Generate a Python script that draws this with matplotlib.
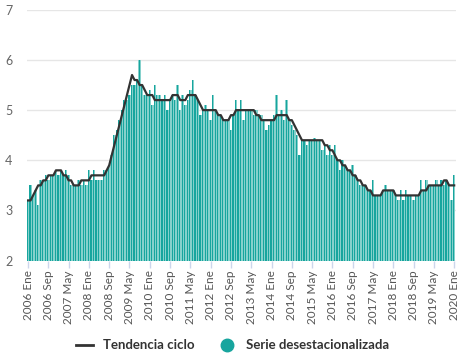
import numpy as np
import matplotlib
matplotlib.use("Agg")
import matplotlib.pyplot as plt
from matplotlib.lines import Line2D

plt.rcParams['font.family'] = ['Lato', 'DejaVu Sans']

# DATOS (mensual, 2006 Ene - 2020 Ene)
meses = ['Ene', 'Feb', 'Mar', 'Abr', 'May', 'Jun', 'Jul', 'Ago', 'Sep', 'Oct', 'Nov', 'Dic']
etiquetas = [f"{2006 + i // 12} {meses[i % 12]}" for i in range(169)]

serie = [3.2, 3.5, 3.3, 3.4, 3.1, 3.6, 3.6, 3.7, 3.6, 3.7, 3.7, 3.8,
         3.7, 3.8, 3.7, 3.8, 3.7, 3.5, 3.5, 3.5, 3.6, 3.5, 3.6, 3.5,
         3.8, 3.6, 3.8, 3.6, 3.6, 3.6, 3.8, 3.8, 3.9, 4.1, 4.5, 4.6,
         4.8, 5.0, 5.2, 5.2, 5.3, 5.5, 5.5, 5.6, 6.0, 5.5, 5.3, 5.3,
         5.4, 5.1, 5.5, 5.3, 5.3, 5.2, 5.3, 5.0, 5.2, 5.3, 5.2, 5.5,
         5.0, 5.3, 5.1, 5.2, 5.4, 5.6, 5.3, 5.2, 4.9, 5.0, 5.1, 5.0,
         4.8, 5.3, 5.0, 4.9, 4.9, 4.8, 4.8, 4.8, 4.6, 4.9, 5.2, 5.0,
         5.2, 4.8, 5.0, 5.0, 5.0, 4.9, 5.0, 4.9, 4.9, 4.8, 4.6, 4.7,
         4.8, 4.9, 5.3, 4.9, 5.0, 4.8, 5.2, 4.8, 4.7, 4.6, 4.5, 4.1,
         4.4, 4.4, 4.3, 4.4, 4.4, 4.45, 4.4, 4.4, 4.2, 4.3, 4.1, 4.3,
         4.1, 4.3, 4.0, 3.8, 4.0, 3.9, 3.8, 3.8, 3.9, 3.7, 3.6, 3.5,
         3.5, 3.5, 3.4, 3.4, 3.6, 3.3, 3.3, 3.3, 3.4, 3.5, 3.4, 3.4,
         3.4, 3.3, 3.2, 3.4, 3.2, 3.4, 3.3, 3.3, 3.2, 3.3, 3.3, 3.6,
         3.4, 3.6, 3.5, 3.5, 3.5, 3.6, 3.5, 3.6, 3.5, 3.6, 3.5, 3.2,
         3.7]

tendencia = [3.2, 3.2, 3.3, 3.4, 3.5, 3.5, 3.6, 3.6, 3.7, 3.7, 3.7, 3.8,
             3.8, 3.8, 3.7, 3.7, 3.6, 3.6, 3.5, 3.5, 3.5, 3.6, 3.6, 3.6,
             3.6, 3.7, 3.7, 3.7, 3.7, 3.7, 3.7, 3.8, 3.9, 4.1, 4.3, 4.5,
             4.7, 4.9, 5.1, 5.3, 5.5, 5.7, 5.6, 5.6, 5.5, 5.5, 5.4, 5.3,
             5.3, 5.3, 5.2, 5.2, 5.2, 5.2, 5.2, 5.2, 5.2, 5.3, 5.3, 5.3,
             5.2, 5.2, 5.2, 5.3, 5.3, 5.3, 5.3, 5.2, 5.1, 5.0, 5.0, 5.0,
             5.0, 5.0, 5.0, 4.9, 4.9, 4.8, 4.8, 4.8, 4.9, 4.9, 5.0, 5.0,
             5.0, 5.0, 5.0, 5.0, 5.0, 5.0, 4.9, 4.9, 4.8, 4.8, 4.8, 4.8,
             4.8, 4.8, 4.9, 4.9, 4.9, 4.9, 4.9, 4.8, 4.8, 4.7, 4.6, 4.5,
             4.4, 4.4, 4.4, 4.4, 4.4, 4.4, 4.4, 4.4, 4.4, 4.3, 4.3, 4.2,
             4.2, 4.1, 4.0, 4.0, 3.9, 3.9, 3.8, 3.8, 3.7, 3.7, 3.6, 3.6,
             3.5, 3.5, 3.4, 3.4, 3.3, 3.3, 3.3, 3.3, 3.4, 3.4, 3.4, 3.4,
             3.4, 3.3, 3.3, 3.3, 3.3, 3.3, 3.3, 3.3, 3.3, 3.3, 3.3, 3.4,
             3.4, 3.4, 3.5, 3.5, 3.5, 3.5, 3.5, 3.5, 3.6, 3.6, 3.5, 3.5,
             3.5]

x = np.arange(len(serie))
base = 2

# FIGURA
fig = plt.figure(figsize=(4.65, 3.63), dpi=100)
ax = fig.add_axes([0.057, 0.282, 0.923, 0.691])

alturas = np.array(serie) - base
ax.bar(x, alturas, bottom=base, width=1.0, color='#86d1cc', linewidth=0, zorder=2)
ax.bar(x - 0.2, alturas, bottom=base, width=0.45, color='#17a59e', linewidth=0, zorder=2)
ax.plot(x, tendencia, color='#333333', linewidth=1.6, zorder=3)

ax.set_ylim(2, 7)
ax.set_xlim(-0.6, 168.6)
ax.set_yticks([2, 3, 4, 5, 6, 7])
ax.yaxis.grid(True, color='#e6e6e6', linewidth=1, zorder=0)
ax.set_axisbelow(True)
for s in ax.spines.values():
    s.set_visible(False)
ax.tick_params(axis='y', length=0, labelsize=9, labelcolor='#666666', pad=10)

pos = x[::8]
ax.set_xticks(pos)
ax.set_xticklabels([etiquetas[i] for i in pos], rotation=90, fontsize=8.5, color='#555555')
ax.tick_params(axis='x', length=5, color='#ccd6eb', width=1, pad=2)

# LEYENDA
handles = [Line2D([0], [0], color='#333333', linewidth=2),
           Line2D([0], [0], marker='o', linestyle='none', markersize=9,
                  markerfacecolor='#17a59e', markeredgecolor='#17a59e')]
fig.legend(handles, ['Tendencia ciclo', 'Serie desestacionalizada'],
           loc='lower center', bbox_to_anchor=(0.5, 0.0), ncol=2, frameon=False,
           prop={'weight': 'bold', 'size': 9.5}, labelcolor='#333333',
           handlelength=1.3, columnspacing=1.8)

fig.savefig('out.png', dpi=100)
